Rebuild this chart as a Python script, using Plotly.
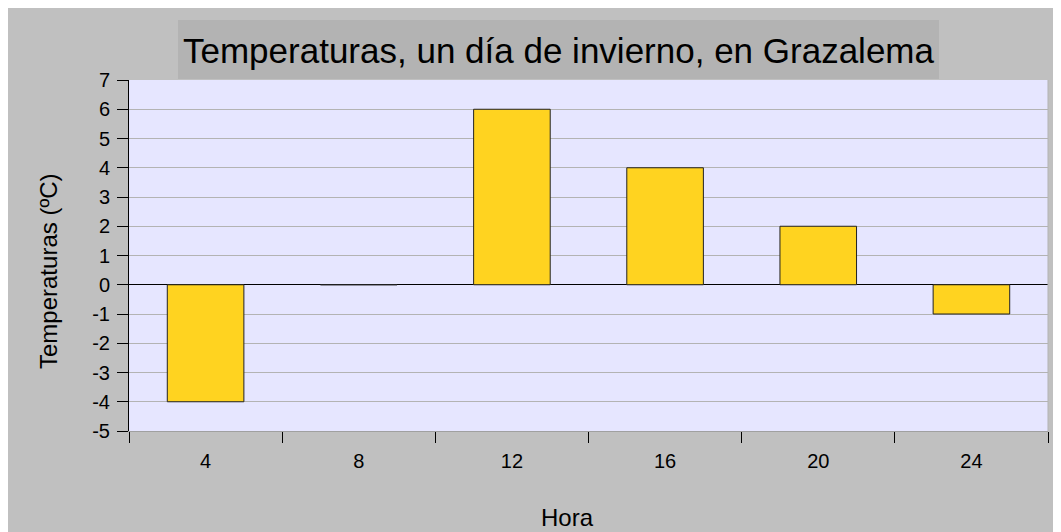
import plotly.graph_objects as go

horas = ["4", "8", "12", "16", "20", "24"]
temperaturas = [-4, 0, 6, 4, 2, -1]
y_ticks = list(range(-5, 8))
y_labels = [str(v) for v in y_ticks]

# the page adds an 8px body margin, so the figure is a bit smaller
W, H = 1053, 524
L, R, T, B = 121, 13, 72, 101
pw, ph = W - L - R, H - T - B


def px_x(p):
    return (p - L) / pw


def px_y(p):
    return (H - B - p) / ph


fig = go.Figure(go.Bar(
    x=horas, y=temperaturas,
    marker=dict(color="#ffd320", line=dict(color="#222222", width=1)),
))

fig.update_layout(
    width=W, height=H,
    margin=dict(l=L, r=R, t=T, b=B),
    paper_bgcolor="#c0c0c0",
    plot_bgcolor="#e6e6ff",
    font=dict(family="Liberation Sans, Arial", size=20, color="#000000"),
    bargap=0.5,
    showlegend=False,
    shapes=[
        # title box
        dict(type="rect", xref="paper", yref="paper", x0=px_x(170), x1=px_x(931),
             y0=px_y(71), y1=px_y(12), fillcolor="#b3b3b3", line_width=0, layer="below"),
        # right edge of the plot area
        dict(type="line", xref="paper", yref="paper", x0=1, x1=1, y0=0, y1=1,
             line=dict(color="#b3b3b3", width=1)),
    ],
    annotations=[
        dict(text="Temperaturas, un día de invierno, en Grazalema",
             xref="paper", yref="paper", x=px_x(550), y=px_y(42),
             xanchor="center", yanchor="middle", showarrow=False,
             font=dict(size=35)),
        dict(text="Temperaturas (ºC)", textangle=-90,
             xref="paper", yref="paper", x=px_x(40), y=px_y(264),
             xanchor="center", yanchor="middle", showarrow=False,
             font=dict(size=24)),
        dict(text="Hora",
             xref="paper", yref="paper", x=px_x(559), y=px_y(509),
             xanchor="center", yanchor="middle", showarrow=False,
             font=dict(size=24)),
    ],
)

fig.update_xaxes(
    type="category",
    tickson="boundaries",
    ticks="outside", ticklen=11, tickcolor="#000000",
    showline=True, linecolor="#a0a0a0", linewidth=1,
    showgrid=False,
    ticklabelstandoff=12,
)

fig.update_yaxes(
    range=[-5, 7],
    tickvals=y_ticks, ticktext=y_labels,
    ticks="outside", ticklen=11, tickcolor="#000000",
    showline=True, linecolor="#000000", linewidth=1,
    showgrid=True, gridcolor="#b3b3b3", gridwidth=1,
    zeroline=True, zerolinecolor="#000000", zerolinewidth=1,
    ticklabelstandoff=3,
)

fig.write_html("out.html")
